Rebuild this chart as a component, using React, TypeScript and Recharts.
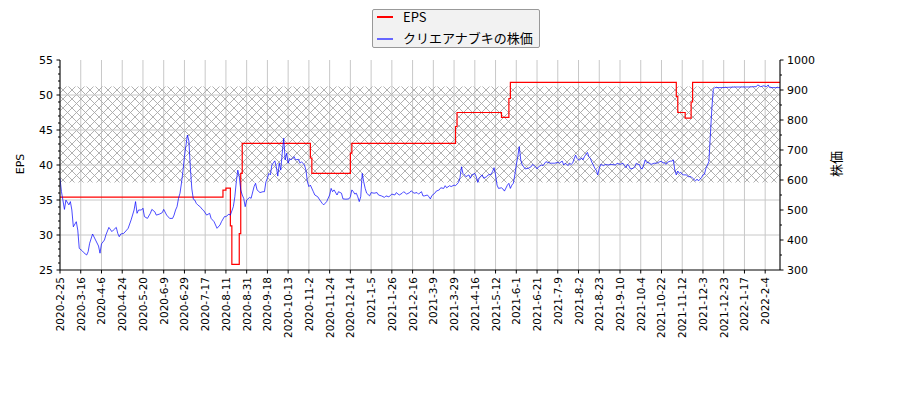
import React from 'react';
import { LineChart, Line, XAxis, YAxis, CartesianGrid, ReferenceArea, ReferenceLine } from 'recharts';

// x-axis tick positions (trading-day index) and their labels
const xTickDays = [0, 14, 28, 42, 56, 70, 84, 98, 112, 126, 140, 154, 168, 182, 196, 210, 224, 238, 252, 266, 280, 294, 308, 322, 336, 350, 364, 378, 392, 406, 420, 434, 448, 462, 476];
const xTickLabels = [
  '2020-2-25', '2020-3-16', '2020-4-6', '2020-4-24', '2020-5-20', '2020-6-9', '2020-6-29', '2020-7-17',
  '2020-8-11', '2020-8-31', '2020-9-18', '2020-10-13', '2020-11-2', '2020-11-24', '2020-12-14', '2021-1-5',
  '2021-1-26', '2021-2-16', '2021-3-9', '2021-3-29', '2021-4-16', '2021-5-12', '2021-6-1', '2021-6-21',
  '2021-7-9', '2021-8-2', '2021-8-23', '2021-9-10', '2021-10-4', '2021-10-22', '2021-11-12', '2021-12-3',
  '2021-12-23', '2022-1-17', '2022-2-4',
];
const lastDay = 486;

const epsTicks = [25, 26, 27, 28, 29, 30, 31, 32, 33, 34, 35, 36, 37, 38, 39, 40, 41, 42, 43, 44, 45, 46, 47, 48, 49, 50, 51, 52, 53, 54, 55];
const epsGrid = [30, 35, 40, 45, 50];
const priceTicks = [300, 350, 400, 450, 500, 550, 600, 650, 700, 750, 800, 850, 900, 950, 1000];

// hatched band (EPS axis units)
const bandLow = 37.5;
const bandHigh = 51.2;

// EPS (step series): [trading-day index, EPS]
const epsSteps: [number, number][] = [
  [0, 35.4], [110, 36.4], [112, 36.7], [115, 31.3], [116, 25.8], [121, 30.2], [122, 38.8], [123, 43.1],
  [169, 41.0], [170, 38.8], [196, 41.7], [197, 43.1], [267, 45.5], [268, 47.5], [298, 46.8], [303, 49.5],
  [304, 51.8], [416, 49.8], [417, 47.5], [422, 46.7], [426, 49.0], [427, 51.8], [486, 51.8],
];

// Share price: [trading-day index, price]
const priceSeries: [number, number][] = [
  [0, 605], [1, 561], [3, 502], [4, 533], [6, 517], [7, 528], [8, 500], [9, 444], [11, 461], [12, 433],
  [13, 372], [15, 364], [16, 358], [18, 350], [19, 361], [20, 389], [22, 420], [24, 400], [26, 380], [27, 356],
  [28, 387], [30, 400], [31, 417], [33, 442], [35, 428], [36, 433], [38, 442], [39, 422], [40, 411], [41, 420],
  [43, 422], [45, 433], [46, 439], [48, 467], [50, 500], [51, 528], [52, 489], [53, 500], [55, 500], [56, 506],
  [57, 478], [59, 472], [61, 489], [62, 502], [64, 494], [65, 483], [67, 486], [69, 491], [70, 502], [72, 483],
  [74, 472], [76, 472], [77, 483], [78, 500], [79, 511], [80, 539], [81, 556], [82, 590], [83, 630], [84, 678],
  [85, 715], [86, 750], [87, 730], [88, 640], [89, 570], [90, 536], [91, 533], [92, 522], [93, 517], [95, 509],
  [96, 502], [97, 498], [99, 483], [101, 489], [102, 472], [104, 461], [106, 439], [108, 450], [109, 461], [111, 478],
  [112, 478], [114, 486], [115, 483], [117, 511], [118, 544], [119, 594], [120, 633], [121, 611], [122, 567], [123, 550],
  [124, 539], [125, 511], [126, 533], [128, 542], [129, 539], [131, 578], [132, 589], [133, 567], [135, 558], [137, 561],
  [138, 561], [139, 594], [140, 606], [141, 622], [142, 617], [143, 650], [145, 664], [146, 644], [147, 613], [148, 656],
  [149, 633], [150, 689], [151, 739], [152, 667], [153, 689], [154, 656], [155, 672], [156, 667], [158, 678], [159, 667],
  [161, 669], [162, 656], [163, 661], [165, 650], [166, 633], [167, 594], [168, 578], [169, 583], [171, 561], [172, 550],
  [174, 544], [175, 536], [177, 522], [178, 517], [180, 528], [182, 550], [183, 572], [184, 561], [185, 567], [187, 550],
  [188, 561], [190, 556], [191, 537], [193, 536], [195, 537], [196, 544], [197, 567], [198, 561], [199, 553], [200, 556],
  [201, 544], [202, 528], [203, 544], [204, 622], [205, 594], [206, 572], [207, 556], [209, 547], [210, 558], [212, 556],
  [214, 558], [215, 550], [217, 547], [219, 542], [220, 547], [222, 544], [224, 553], [226, 550], [227, 558], [229, 550],
  [231, 556], [232, 561], [234, 553], [236, 558], [237, 564], [239, 556], [241, 558], [242, 553], [244, 561], [245, 547],
  [246, 547], [248, 550], [249, 544], [250, 537], [251, 548], [253, 556], [254, 563], [256, 567], [257, 574], [259, 572],
  [260, 581], [261, 574], [263, 581], [264, 578], [266, 583], [267, 581], [269, 592], [270, 608], [271, 644], [272, 622],
  [273, 617], [274, 611], [276, 617], [277, 606], [278, 617], [280, 622], [281, 611], [282, 592], [283, 606], [285, 617],
  [286, 606], [288, 611], [289, 617], [291, 619], [292, 628], [293, 641], [294, 617], [295, 583], [296, 572], [298, 574],
  [299, 570], [300, 563], [302, 583], [303, 589], [304, 572], [305, 583], [306, 589], [307, 617], [308, 650], [309, 678],
  [310, 711], [311, 667], [312, 650], [313, 644], [314, 637], [316, 639], [318, 644], [319, 652], [321, 644], [322, 637],
  [323, 644], [325, 650], [326, 648], [328, 661], [329, 659], [331, 656], [332, 656], [334, 656], [336, 659], [337, 656],
  [339, 663], [340, 650], [341, 656], [343, 648], [344, 656], [345, 652], [346, 656], [348, 683], [349, 672], [350, 667],
  [351, 667], [352, 674], [353, 667], [354, 678], [356, 692], [357, 678], [358, 672], [359, 659], [360, 650], [361, 639],
  [362, 633], [363, 617], [364, 639], [365, 652], [367, 648], [368, 652], [370, 650], [372, 652], [375, 650], [376, 656],
  [378, 652], [380, 656], [381, 648], [382, 641], [383, 652], [384, 648], [385, 637], [387, 639], [388, 644], [389, 656],
  [390, 652], [391, 652], [392, 639], [393, 637], [394, 650], [395, 667], [396, 659], [398, 656], [399, 652], [401, 656],
  [403, 656], [404, 659], [406, 663], [407, 656], [408, 659], [409, 652], [410, 659], [412, 663], [413, 663], [414, 667],
  [415, 633], [416, 617], [417, 630], [418, 622], [419, 626], [420, 619], [421, 617], [423, 617], [424, 611], [426, 611],
  [427, 606], [429, 597], [430, 603], [431, 597], [433, 608], [434, 617], [435, 619], [436, 639], [437, 650], [438, 661],
  [439, 750], [440, 839], [441, 903], [442, 908], [447, 908], [451, 909], [456, 910], [460, 910], [465, 910], [468, 911],
  [470, 911], [471, 917], [473, 911], [475, 914], [477, 911], [478, 917], [479, 908], [483, 908], [486, 908],
];

const epsData = epsSteps.map(([day, eps]) => ({ day, eps }));
const priceData = priceSeries.map(([day, price]) => ({ day, price }));

const TICK_FONT = '"DejaVu Sans", sans-serif';
const JP_FONT = '"Noto Sans CJK JP", sans-serif';

const XTick = (props: any) => {
  const { x, y, payload } = props;
  const idx = xTickDays.indexOf(payload.value);
  const label = idx >= 0 ? xTickLabels[idx] : '';
  const ty = y + 7;
  return (
    <g>
      <line x1={x} y1={y} x2={x} y2={y + 3.5} stroke="#000" strokeWidth={1} />
      <text
        x={x}
        y={ty}
        transform={`rotate(-90 ${x} ${ty})`}
        textAnchor="end"
        dominantBaseline="central"
        fontSize={10.5}
        fontFamily={TICK_FONT}
        fill="#000"
      >
        {label}
      </text>
    </g>
  );
};

const LeftTick = (props: any) => {
  const { x, y, payload } = props;
  const major = payload.value % 5 === 0;
  return (
    <g>
      <line x1={x} y1={y} x2={x - (major ? 3.5 : 2)} y2={y} stroke="#000" strokeWidth={1} />
      {major && (
        <text x={x - 7} y={y} textAnchor="end" dominantBaseline="central" fontSize={11} fontFamily={TICK_FONT} fill="#000">
          {payload.value}
        </text>
      )}
    </g>
  );
};

const RightTick = (props: any) => {
  const { x, y, payload } = props;
  const major = payload.value % 100 === 0;
  return (
    <g>
      <line x1={x} y1={y} x2={x + (major ? 3.5 : 2)} y2={y} stroke="#000" strokeWidth={1} />
      {major && (
        <text x={x + 7} y={y} textAnchor="start" dominantBaseline="central" fontSize={11} fontFamily={TICK_FONT} fill="#000">
          {payload.value}
        </text>
      )}
    </g>
  );
};

export default function App() {
  return (
    <div style={{ position: 'absolute', left: 0, top: 0, width: 900, height: 400, background: '#fff' }}>
      <LineChart width={900} height={400} margin={{ top: 60, right: 0, bottom: 50, left: 0 }}>
        <defs>
          <pattern id="hatch" patternUnits="userSpaceOnUse" width={9} height={9}>
            <path d="M-1,-1 L10,10 M10,-1 L-1,10" stroke="#a8a8a8" strokeWidth={0.9} fill="none" />
          </pattern>
        </defs>
        <CartesianGrid yAxisId="left" horizontal={false} stroke="#c8c8c8" strokeWidth={1} />
        {epsGrid.map((v) => (
          <ReferenceLine key={v} yAxisId="left" y={v} stroke="#c8c8c8" strokeWidth={1} ifOverflow="hidden" />
        ))}
        <XAxis
          dataKey="day"
          type="number"
          domain={[0, lastDay]}
          ticks={xTickDays}
          interval={0}
          height={80}
          tickSize={0}
          tickMargin={0}
          tickLine={false}
          tick={<XTick />}
          axisLine={{ stroke: '#000', strokeWidth: 1 }}
          allowDataOverflow
        />
        <YAxis
          yAxisId="left"
          orientation="left"
          domain={[25, 55]}
          ticks={epsTicks}
          interval={0}
          width={60}
          tickSize={0}
          tickMargin={0}
          tickLine={false}
          tick={<LeftTick />}
          axisLine={{ stroke: '#000', strokeWidth: 1 }}
          allowDataOverflow
        />
        <YAxis
          yAxisId="right"
          orientation="right"
          domain={[300, 1000]}
          ticks={priceTicks}
          interval={0}
          width={120}
          tickSize={0}
          tickMargin={0}
          tickLine={false}
          tick={<RightTick />}
          axisLine={{ stroke: '#000', strokeWidth: 1 }}
          allowDataOverflow
        />
        <ReferenceArea yAxisId="left" y1={bandLow} y2={bandHigh} fill="url(#hatch)" fillOpacity={1} stroke="none" ifOverflow="hidden" />
        <Line
          yAxisId="left"
          data={epsData}
          dataKey="eps"
          type="stepAfter"
          stroke="#ff0000"
          strokeWidth={1.2}
          dot={false}
          isAnimationActive={false}
        />
        <Line
          yAxisId="right"
          data={priceData}
          dataKey="price"
          type="linear"
          stroke="#0000ff"
          strokeOpacity={0.7}
          strokeWidth={1}
          dot={false}
          isAnimationActive={false}
        />
      </LineChart>

      <svg width={900} height={400} style={{ position: 'absolute', left: 0, top: 0, pointerEvents: 'none' }}>
        <text x={20} y={164} transform="rotate(-90 20 164)" textAnchor="middle" dominantBaseline="central" fontSize={11} fontFamily={TICK_FONT} fill="#000">
          EPS
        </text>
        <text x={835} y={164} transform="rotate(-90 835 164)" textAnchor="middle" dominantBaseline="central" fontSize={13} fontFamily={JP_FONT} fill="#000">
          株価
        </text>
      </svg>

      <div
        style={{
          position: 'absolute',
          left: 372,
          top: 9,
          width: 168,
          height: 39,
          boxSizing: 'border-box',
          background: '#f2f2f2',
          border: '1px solid #999',
          borderRadius: 2,
          fontFamily: JP_FONT,
          fontSize: 13,
          color: '#000',
        }}
      >
        <div style={{ position: 'absolute', left: 4, top: 6, width: 16, height: 2, background: '#ff0000' }} />
        <div style={{ position: 'absolute', left: 30, top: -2, lineHeight: '18px', whiteSpace: 'nowrap' }}>EPS</div>
        <div style={{ position: 'absolute', left: 4, top: 28, width: 16, height: 2, background: '#6666ff' }} />
        <div style={{ position: 'absolute', left: 30, top: 19, lineHeight: '18px', whiteSpace: 'nowrap' }}>クリエアナブキの株価</div>
      </div>
    </div>
  );
}
